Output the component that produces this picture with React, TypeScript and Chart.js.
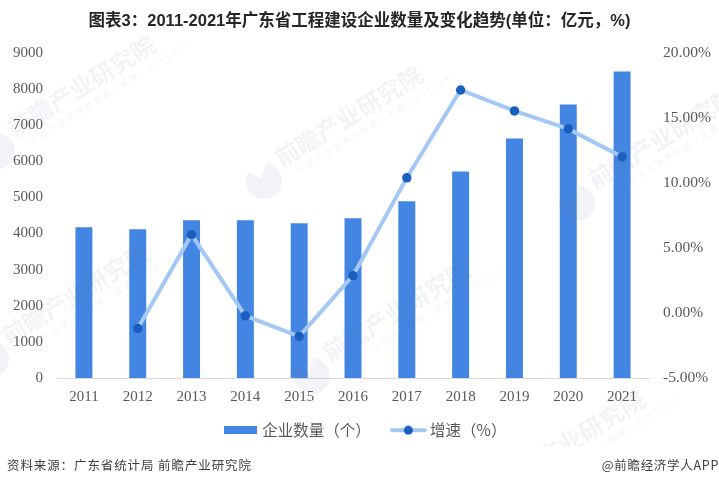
import { Chart, registerables } from "chart.js";
import { useEffect, useRef } from "react";

Chart.register(...registerables);

const years = ["2011", "2012", "2013", "2014", "2015", "2016", "2017", "2018", "2019", "2020", "2021"];
const companies = [4170, 4116, 4365, 4365, 4280, 4420, 4890, 5718, 6630, 7570, 8480];
const growth = [null, -1.19, 6.02, -0.22, -1.8, 2.87, 10.39, 17.14, 15.53, 14.15, 12.0];

const BAR = "#4285e3";
const LINE = "#a3c8f5";
const DOT = "#1a5fbf";
const serif = '"Liberation Serif", "Noto Serif CJK SC", serif';
const cjk = '"Noto Sans CJK SC", "Noto Sans", sans-serif';

function barSwatch() {
  const c = document.createElement("canvas");
  c.width = 33;
  c.height = 8;
  const ctx = c.getContext("2d")!;
  ctx.fillStyle = BAR;
  ctx.fillRect(0, 0, 33, 8);
  return c;
}

function lineSwatch() {
  const c = document.createElement("canvas");
  c.width = 37;
  c.height = 10;
  const ctx = c.getContext("2d")!;
  ctx.strokeStyle = LINE;
  ctx.lineWidth = 4;
  ctx.lineCap = "round";
  ctx.beginPath();
  ctx.moveTo(2, 5);
  ctx.lineTo(35, 5);
  ctx.stroke();
  ctx.fillStyle = DOT;
  ctx.beginPath();
  ctx.arc(18.5, 5, 4.5, 0, Math.PI * 2);
  ctx.fill();
  return c;
}

// faint logo stamps over the plot, same repeat as the source image
const stamps = [
  [-3, 151],
  [264, 181],
  [-9, 359],
  [312, 376],
  [577, 203],
  [486, 506],
];

const watermark = {
  id: "watermark",
  afterDatasetsDraw(chart: Chart) {
    const ctx = chart.ctx;
    ctx.save();
    ctx.beginPath();
    ctx.rect(0, 0, 719, 446);
    ctx.clip();
    ctx.fillStyle = "rgba(110,122,155,0.09)";
    for (const [x, y] of stamps) {
      ctx.save();
      ctx.translate(x, y);
      ctx.rotate((-31.5 * Math.PI) / 180);
      ctx.beginPath();
      ctx.arc(0, 0, 18, -0.9, Math.PI * 1.35);
      ctx.lineTo(-2, -4);
      ctx.closePath();
      ctx.fill();
      ctx.textAlign = "left";
      ctx.textBaseline = "alphabetic";
      ctx.font = `bold 24px ${cjk}`;
      ctx.fillText("前瞻产业研究院", 22, -2);
      ctx.font = `8px ${cjk}`;
      (ctx as any).letterSpacing = "2.6px";
      ctx.fillText("中国产业咨询领导者（股票：839599）", 34, 12);
      (ctx as any).letterSpacing = "0px";
      ctx.restore();
    }
    ctx.restore();
  },
};

const footer = {
  id: "footer",
  afterDraw(chart: Chart) {
    const ctx = chart.ctx;
    ctx.save();
    ctx.fillStyle = "#404040";
    ctx.font = `12.5px ${cjk}`;
    ctx.textBaseline = "middle";
    ctx.textAlign = "left";
    (ctx as any).letterSpacing = "0.9px";
    ctx.fillText("资料来源：广东省统计局 前瞻产业研究院", 7, 465);
    ctx.textAlign = "right";
    (ctx as any).letterSpacing = "0.7px";
    ctx.fillText("@前瞻经济学人APP", 719, 465);
    ctx.restore();
  },
};

// the reference legend sits a little right of centre and closer to the axis
const nudgeLegend = {
  id: "nudgeLegend",
  afterLayout(chart: Chart) {
    if (chart.legend) {
      chart.legend.left += 7;
      chart.legend.right += 7;
      chart.legend.top -= 10;
      chart.legend.bottom -= 10;
    }
  },
};

export default function App() {
  const canvasRef = useRef<HTMLCanvasElement | null>(null);

  useEffect(() => {
    if (!canvasRef.current) {
      return;
    }

    const swatches = [barSwatch(), lineSwatch()];

    const chart = new Chart(canvasRef.current, {
      type: "bar",
      data: {
        labels: years,
        datasets: [
          {
            type: "bar",
            label: "企业数量（个）",
            data: companies,
            backgroundColor: BAR,
            barPercentage: 0.315,
            categoryPercentage: 1,
            yAxisID: "y",
            order: 2,
          },
          {
            type: "line",
            label: "增速（%）",
            data: growth,
            borderColor: LINE,
            borderWidth: 4,
            pointRadius: 4.7,
            pointBackgroundColor: DOT,
            pointBorderWidth: 0,
            tension: 0,
            yAxisID: "y1",
            order: 1,
          },
        ],
      },
      options: {
        animation: false,
        responsive: false,
        layout: { padding: { top: 0, bottom: 28, left: 0, right: 0 } },
        plugins: {
          title: {
            display: true,
            text: "图表3：2011-2021年广东省工程建设企业数量及变化趋势(单位：亿元，%)",
            color: "#262626",
            font: { family: `"Liberation Sans", ${cjk}`, size: 16.5, weight: "bold" },
            padding: { top: 12, bottom: 21 },
          },
          legend: {
            position: "bottom",
            labels: {
              usePointStyle: true,
              pointStyleWidth: 28,
              color: "#595959",
              font: { family: cjk, size: 15.5 },
              padding: 23.5,
              generateLabels: (c) =>
                c.data.datasets.map((d, i) => ({
                  text: d.label as string,
                  datasetIndex: i,
                  pointStyle: swatches[i],
                  fontColor: "#595959",
                  lineWidth: 0,
                  strokeStyle: "transparent",
                  fillStyle: "transparent",
                })),
            },
          },
          tooltip: { enabled: false },
        },
        scales: {
          x: {
            grid: { display: false },
            border: { color: "#d9d9d9", width: 1 },
            ticks: { color: "#595959", font: { family: serif, size: 15 }, padding: 2, maxRotation: 0 },
            afterFit: (s) => {
              s.height = 31;
            },
          },
          y: {
            position: "left",
            min: 0,
            max: 9000,
            grid: { display: false, drawTicks: false },
            border: { display: false },
            ticks: {
              stepSize: 1000,
              color: "#595959",
              font: { family: serif, size: 15 },
              padding: 14,
              callback: (v) => String(v),
            },
            afterFit: (s) => {
              s.width = 57;
            },
          },
          y1: {
            position: "right",
            min: -5,
            max: 20,
            grid: { display: false, drawTicks: false },
            border: { display: false },
            ticks: {
              stepSize: 5,
              color: "#595959",
              font: { family: serif, size: 15.5 },
              padding: 14,
              callback: (v) => Number(v).toFixed(2) + "%",
            },
            afterFit: (s) => {
              s.width = 70;
            },
          },
        },
      },
      plugins: [watermark, footer, nudgeLegend],
    });

    return () => {
      chart.destroy();
    };
  }, []);

  return (
    <div style={{ position: "absolute", left: 0, top: 0, width: 719, height: 486, background: "#fff" }}>
      <canvas ref={canvasRef} width={719} height={486} style={{ display: "block" }} />
    </div>
  );
}
